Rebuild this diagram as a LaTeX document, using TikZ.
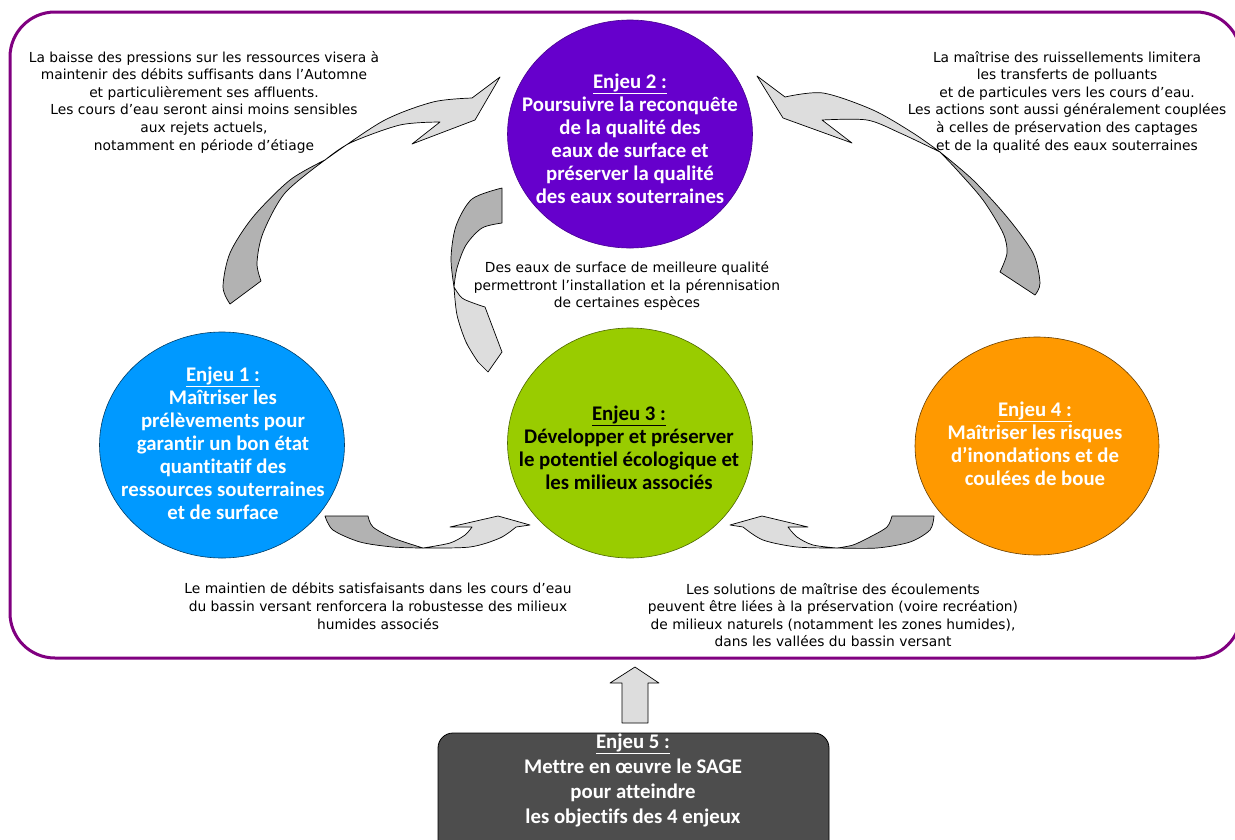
\documentclass[tikz,border=0pt]{standalone}
\usepackage{fontspec}
\setmainfont[Ligatures=NoCommon]{DejaVu Sans}
\newfontfamily\calfont[Ligatures=NoCommon]{Carlito}
\usetikzlibrary{shapes.geometric}
\definecolor{framepurple}{HTML}{800080}
\definecolor{cpurple}{HTML}{6600CC}
\definecolor{cblue}{HTML}{0099FF}
\definecolor{cgreen}{HTML}{99CC00}
\definecolor{corange}{HTML}{FF9900}
\definecolor{cgraybox}{HTML}{4D4D4D}
\definecolor{adark}{HTML}{B2B2B2}
\definecolor{alight}{HTML}{DDDDDD}
\newcommand{\enj}[1]{\underline{#1}}
\begin{document}
\begin{tikzpicture}[x=1pt,y=-1pt,
  note/.style={font=\fontsize{13.8}{17.6}\selectfont, align=center, inner sep=0pt},
  bigtxt/.style={font=\calfont\bfseries\fontsize{20.8}{23}\selectfont, align=center, inner sep=0pt},
  enjeu/.style={ellipse, minimum width=245pt, minimum height=226pt, inner sep=0pt, line width=0.6pt},
  adarkst/.style={fill=adark, draw=black, line width=0.7pt, line join=round},
  alightst/.style={fill=alight, draw=black, line width=0.7pt, line join=round},
  framest/.style={draw=framepurple, line width=3pt, rounded corners=45pt}
]
\useasboundingbox (0,0) rectangle (1235,839);
\clip (0,0) rectangle (1235,839);
\fill[white] (0,0) rectangle (1235,839);

% frame
\node[framest, minimum width=1231pt, minimum height=646pt, inner sep=0pt] (frame) at (625.5,335) {};

% circles
\node[enjeu, fill=cpurple, draw=cpurple!70!black, minimum height=228pt] (e2) at (630,134) {};
\node[bigtxt, text=white] (e2t) at (630,139) {\enj{Enjeu 2 :}\\Poursuivre la reconquête\\de la qualité des\\eaux de surface et\\préserver la qualité\\des eaux souterraines};

\node[enjeu, fill=cgreen, draw=cgreen!50!black, minimum height=230pt] (e3) at (630,443) {};
\node[bigtxt, text=black] (e3t) at (629,448) {\enj{Enjeu 3 :}\\Développer et préserver\\le potentiel écologique et\\les milieux associés};

\node[enjeu, fill=cblue, draw=cblue!40!black] (e1) at (222,445) {};
\node[bigtxt, text=white] (e1t) at (223,443) {\enj{Enjeu 1 :}\\Maîtriser les\\prélèvements pour\\garantir un bon état\\quantitatif des\\ressources souterraines\\et de surface};

\node[enjeu, fill=corange, draw=corange!40!black, minimum width=244pt, minimum height=218pt] (e4) at (1037,446) {};
\node[bigtxt, text=white] (e4t) at (1035,444) {\enj{Enjeu 4 :}\\Maîtriser les risques\\d’inondations et de\\coulées de boue};

% Enjeu 5
\node[draw=black, fill=cgraybox, rounded corners=15pt, minimum width=391pt, minimum height=134pt, line width=0.8pt] (e5) at (633.5,800) {};
\node[font=\calfont\bfseries\fontsize{20.8}{25}\selectfont, align=center, inner sep=0pt, text=white] (e5t) at (633,780) {\enj{Enjeu 5 :}\\Mettre en œuvre le SAGE\\pour atteindre\\les objectifs des 4 enjeux};

% up arrow
\draw[alightst] (622,723) -- (622,683) -- (610,683) -- (635,667) -- (659,683) -- (648,683) -- (648,723) -- cycle;

% top-left curved arrow (e1 -> e2)
\draw[adarkst] plot[smooth] coordinates {(230,304) (223,287) (230,253) (253,217) (290,180) (325,160)}
  -- plot[smooth] coordinates {(325,160) (285,193) (263,233) (257,263) (261,281)} -- cycle;
\draw[alightst] plot[smooth] coordinates {(325,160) (383,121) (433,102) (472,98)} -- (500,77) -- (475,120) -- (412,144)
  -- plot[smooth] coordinates {(440,122) (400,125) (350,143) (325,160)} -- cycle;

% top-right curved arrow (e4 -> e2)
\draw[alightst] plot[smooth] coordinates {(785,97) (823,93) (873,110) (913,133) (940,152)}
  -- plot[smooth] coordinates {(940,152) (900,133) (867,120) (822,120)} -- (852,143) -- (783,118) -- (757,76) -- cycle;
\draw[adarkst] plot[smooth] coordinates {(940,152) (973,180) (1007,217) (1033,253) (1040,283) (1035,295)}
  -- plot[smooth] coordinates {(1000,272) (1007,253) (1003,233) (983,200) (957,170) (940,152)} -- cycle;

% middle curved arrow (e2 -> e3)
\draw[adarkst] plot[smooth] coordinates {(502,223) (482,228) (466,245) (457,268) (454,287)}
  -- plot[smooth] coordinates {(454,287) (451,258) (456,226) (472,199) (502,188)} -- cycle;
\draw[alightst] plot[smooth] coordinates {(454,287) (462,298) (476,304) (485,307)} -- (502,352) -- (488,372) -- (478,362)
  -- plot[smooth] coordinates {(478,362) (466,342) (457,315) (454,287)} -- cycle;

% bottom-left curved arrow (e1 -> e3)
\draw[adarkst] plot[smooth] coordinates {(325,516) (333,530) (360,542) (393,547) (423,548)}
  -- plot[smooth] coordinates {(423,548) (393,538) (373,527) (368,516)} -- cycle;
\draw[alightst] plot[smooth] coordinates {(423,548) (450,543) (465,535) (472,527)} -- (450,527) -- (498,516) -- (530,525)
  -- plot[smooth] coordinates {(516,527) (500,538) (470,547) (423,548)} -- cycle;

% bottom-right curved arrow (e4 -> e3)
\draw[adarkst] plot[smooth] coordinates {(934,516) (930,530) (910,542) (877,548) (837,548)}
  -- plot[smooth] coordinates {(837,548) (853,545) (870,537) (887,527) (892,516)} -- cycle;
\draw[alightst] plot[smooth] coordinates {(837,548) (813,545) (797,537) (788,527)} -- (808,527) -- (762,516) -- (730,525)
  -- plot[smooth] coordinates {(743,527) (763,540) (797,547) (837,548)} -- cycle;

% notes
\node[note] (n1) at (204,102) {La baisse des pressions sur les ressources visera à\\maintenir des débits suffisants dans l’Automne\\et particulièrement ses affluents.\\Les cours d’eau seront ainsi moins sensibles\\aux rejets actuels,\\notamment en période d’étiage};
\node[note] (n2) at (1067,102) {La maîtrise des ruissellements limitera\\les transferts de polluants\\et de particules vers les cours d’eau.\\Les actions sont aussi généralement couplées\\à celles de préservation des captages\\et de la qualité des eaux souterraines};
\node[note] (n3) at (627,286) {Des eaux de surface de meilleure qualité\\permettront l’installation et la pérennisation\\de certaines espèces};
\node[note] (n4) at (378,606) {Le maintien de débits satisfaisants dans les cours d’eau\\du bassin versant renforcera la robustesse des milieux\\humides associés};
\node[note] (n5) at (833,615) {Les solutions de maîtrise des écoulements\\peuvent être liées à la préservation (voire recréation)\\de milieux naturels (notamment les zones humides),\\dans les vallées du bassin versant};
\end{tikzpicture}
\end{document}
